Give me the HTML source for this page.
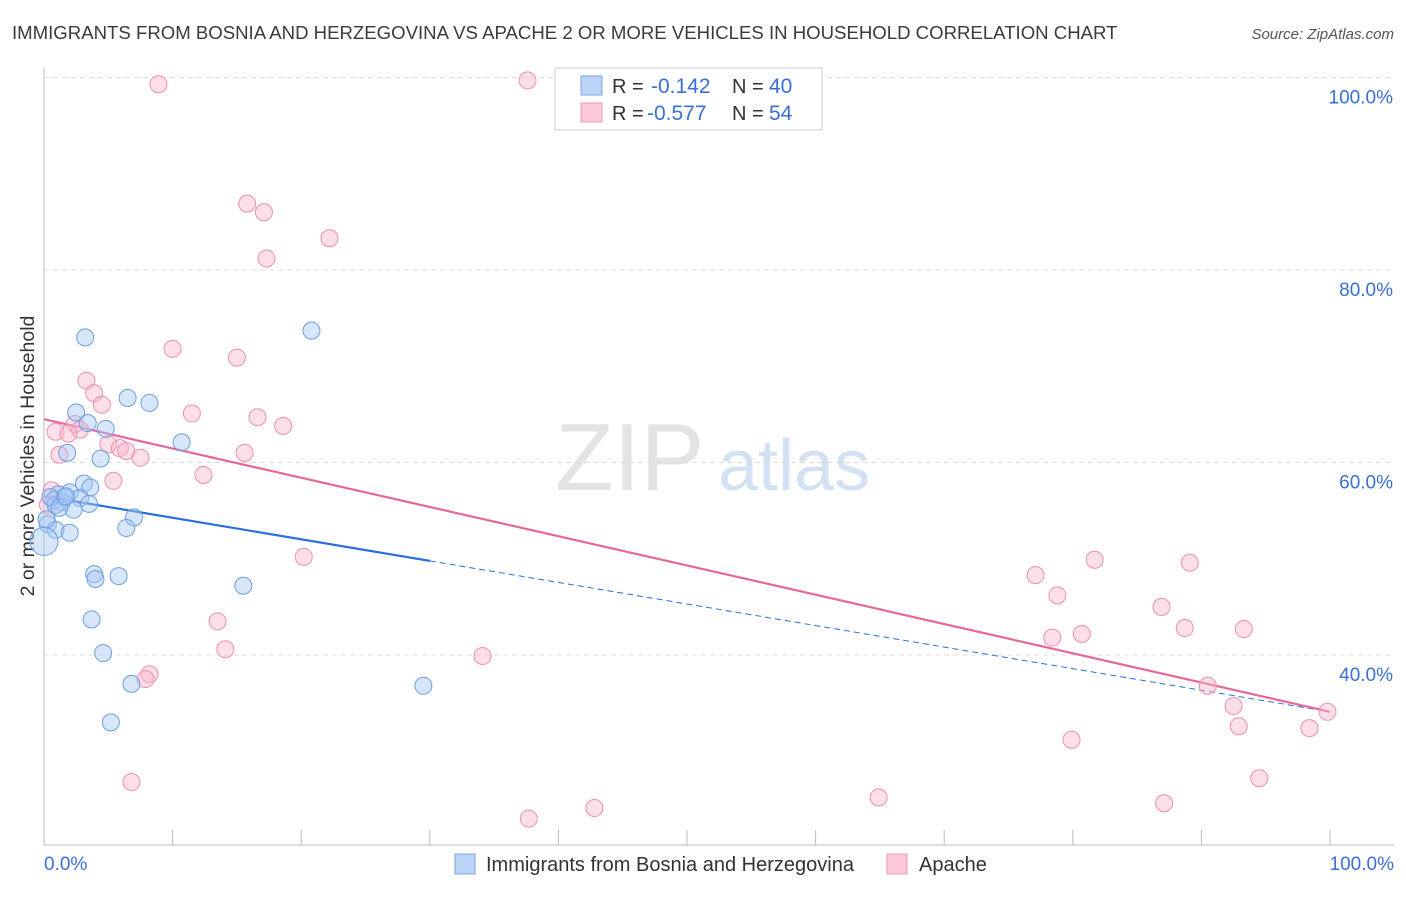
<!DOCTYPE html>
<html><head><meta charset="utf-8"><style>
body{margin:0;background:#fff;width:1406px;height:892px;overflow:hidden;font-family:"Liberation Sans",sans-serif}
svg text{font-family:"Liberation Sans",sans-serif}
</style></head><body>
<svg id="chart" width="1406" height="892" xmlns="http://www.w3.org/2000/svg">
<text x="12" y="39" font-size="18.6" fill="#3a3a3a">IMMIGRANTS FROM BOSNIA AND HERZEGOVINA VS APACHE 2 OR MORE VEHICLES IN HOUSEHOLD CORRELATION CHART</text>
<text x="1394" y="39" font-size="15" fill="#555" font-style="italic" text-anchor="end">Source: ZipAtlas.com</text>
<text transform="translate(34,456) rotate(-90)" font-size="19.5" fill="#333" text-anchor="middle">2 or more Vehicles in Household</text>
<text x="555" y="490" font-size="96" fill="#ddd" font-family="Liberation Serif" opacity="0.8">ZIP</text>
<text x="718" y="490" font-size="72" fill="#c9daf0" opacity="0.8">atlas</text>
<g id="grid"></g><g id="lines"></g><g id="pts"></g>
<g>
<rect x="555" y="68" width="267" height="62" fill="#fff" stroke="#ccc"/>
<rect x="581" y="76" width="21" height="19" fill="#bcd4f5" stroke="#7aa6e8"/>
<rect x="581" y="103" width="21" height="19" fill="#fcc9d8" stroke="#ee9ab5"/>
<text x="612" y="93" font-size="20" fill="#333">R = </text><text x="651" y="93" font-size="21" fill="#3a6fd8">-0.142</text>
<text x="732" y="93" font-size="20" fill="#333">N = </text><text x="769" y="93" font-size="21" fill="#3a6fd8">40</text>
<text x="612" y="120" font-size="20" fill="#333">R = </text><text x="647" y="120" font-size="21" fill="#3a6fd8">-0.577</text>
<text x="732" y="120" font-size="20" fill="#333">N = </text><text x="769" y="120" font-size="21" fill="#3a6fd8">54</text>
</g>
<g>
<rect x="455" y="854" width="20" height="20" fill="#bcd4f5" stroke="#7aa6e8"/>
<text x="486" y="871" font-size="20" fill="#333">Immigrants from Bosnia and Herzegovina</text>
<rect x="887" y="854" width="20" height="20" fill="#fcc9d8" stroke="#ee9ab5"/>
<text x="919" y="871" font-size="20" fill="#333">Apache</text>
</g>
<text x="44" y="870" font-size="19" fill="#3a6fd8">0.0%</text>
<text x="1394" y="870" font-size="19" fill="#3a6fd8" text-anchor="end">100.0%</text>
</svg>
<script>
const yTicks=[40,60,80,100];
const xTicks=[0,10,20,30,40,50,60,70,80,90,100];
const blueX=[3.2,2.5,6.5,8.2,3.4,4.8,10.7,1.8,4.4,3.1,3.6,1.1,2.0,0.8,1.4,2.8,3.5,2.3,0.9,7.0,6.4,0.3,0.9,2.0,0,3.9,4.0,5.8,15.5,3.7,4.6,6.8,5.2,20.8,29.5,1.6,0.5,1.2,0.2,1.7];
const blueY=[73.0,65.2,66.7,66.2,64.1,63.5,62.1,61.0,60.4,57.8,57.4,56.7,56.9,56.1,55.9,56.3,55.7,55.1,55.6,54.3,53.2,53.6,53.0,52.7,51.8,48.4,47.9,48.2,47.2,43.7,40.2,37.0,33.0,73.7,36.8,56.4,56.4,55.3,54.1,56.5];
const pinkX=[8.9,37.6,15.8,17.1,22.2,17.3,10.0,15.0,3.3,3.9,4.5,11.5,16.6,18.6,2.4,2.8,0.9,1.9,5.0,5.9,6.4,7.5,1.2,15.6,12.4,5.4,0.6,0.3,20.2,13.5,14.1,8.2,7.9,34.1,6.8,37.7,42.8,64.9,77.1,81.7,89.1,78.8,86.9,78.4,80.7,88.7,93.3,90.5,92.5,92.9,99.8,98.4,79.9,94.5,87.1];
const pinkY=[99.3,99.7,86.9,86.0,83.3,81.2,71.8,70.9,68.5,67.2,66.0,65.1,64.7,63.8,64.0,63.4,63.2,63.0,61.9,61.5,61.2,60.5,60.8,61.0,58.7,58.1,57.1,55.6,50.2,43.5,40.6,38.0,37.5,39.9,26.8,23.0,24.1,25.2,48.3,49.9,49.6,46.2,45.0,41.8,42.2,42.8,42.7,36.8,34.7,32.6,34.1,32.4,31.2,27.2,24.6];
const blueTrend=[56.5,34.1];
const pinkTrend=[64.5,34.1];
const sx=v=>44+v*12.86, sy=v=>1040-v*9.625;
const NS="http://www.w3.org/2000/svg";
function mk(t,a,p){const e=document.createElementNS(NS,t);for(const k in a)e.setAttribute(k,a[k]);p.appendChild(e);return e;}
const g=document.getElementById('grid');
const ax=mk('line',{x1:44,y1:68,x2:44,y2:845,stroke:'#bbb'},g);


const bx=mk('line',{x1:44,y1:845,x2:1394,y2:845,stroke:'#bbb'},g);


yTicks.forEach(t=>{
 const l=mk('line',{x1:44,x2:1394,y1:sy(t),y2:sy(t),stroke:'#ddd','stroke-dasharray':'5,4'},g);
 
 
 const tx=mk('text',{x:1393,y:sy(t)+26,'font-size':19,fill:'#3a6fd8','text-anchor':'end'},g);tx.textContent=t.toFixed(1)+'%';
 
 
});
xTicks.forEach(t=>{
 const l=mk('line',{x1:sx(t),x2:sx(t),y1:830,y2:845,stroke:'#bbb'},g);
 
 
});
const L=document.getElementById('lines');
function trend(tr,col,name,solidEnd){
 const yAt=x=>tr[0]+(tr[1]-tr[0])*x/100;
 const a=mk('line',{x1:sx(0),y1:sy(tr[0]),x2:sx(solidEnd),y2:sy(yAt(solidEnd)),stroke:col,'stroke-width':2.2},L);
 
 
 if(solidEnd<100){const b=mk('line',{x1:sx(solidEnd),y1:sy(yAt(solidEnd)),x2:sx(100),y2:sy(tr[1]),stroke:col,'stroke-width':1,'stroke-dasharray':'6,4'},L);
 
 }
}
const P=document.getElementById('pts');
function pts(X,Y,fill,stroke,name){X.forEach((x,i)=>{
 const c=mk('circle',{cx:sx(x),cy:sy(Y[i]),r:(name==='blue-point'&&i===24)?14:8.5,fill:fill,'fill-opacity':0.45,stroke:stroke,'stroke-width':1},P);
 
 
});}
pts(pinkX,pinkY,'#f9b8cc','#ee8fb0','pink-point');
pts(blueX,blueY,'#a9c8f2','#6b9de6','blue-point');
trend(blueTrend,'#2a6fdb','blue-trendline',30);
trend(pinkTrend,'#e8679a','pink-trendline',100);
</script>
</body></html>
